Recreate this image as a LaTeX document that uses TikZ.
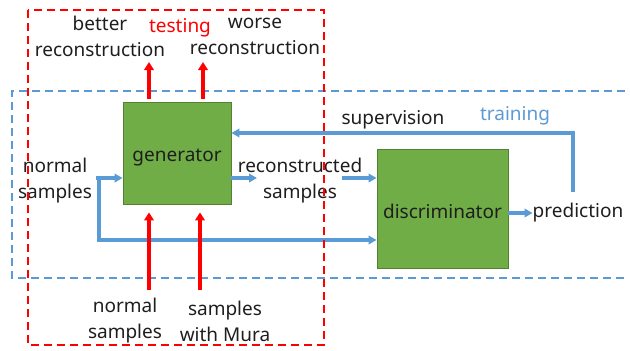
\documentclass[tikz,border=0pt]{standalone}
\usepackage{fontspec}
\setmainfont{Noto Sans}
\usetikzlibrary{arrows.meta,positioning,calc}
\definecolor{gc}{RGB}{112,173,71}
\definecolor{gl}{RGB}{84,130,53}
\definecolor{bc}{RGB}{91,155,213}
\definecolor{tc}{RGB}{30,30,30}
\tikzset{blk/.style={draw=gl,fill=gc,line width=.8pt,inner sep=0pt,text=tc},
 lbl/.style={align=center,inner sep=0pt,text=tc,yshift=-3pt},
 barr/.style={draw=bc,line width=3.6pt,-{Triangle[length=8pt,width=8.5pt]}},
 rarr/.style={draw=red,line width=4.5pt,-{Triangle[length=8pt,width=9.5pt]}},
 bbox/.style={draw=bc,line width=1.5pt,dash pattern=on 8pt off 5pt},
 rbox/.style={draw=red,line width=1.8pt,dash pattern=on 8pt off 5pt},
 every node/.style={font=\fontsize{19}{26}\selectfont}}
\begin{document}
\begin{tikzpicture}[x=1pt,y=-1pt]
\useasboundingbox (0,0) rectangle (630,351);
% training frame
\draw[bbox] (625,91) -- (12,91) -- (12,278) -- (625,278);
\node[lbl,text=bc] (trn) at (515,113) {training};
% blocks
\node[blk,minimum width=108pt,minimum height=102pt,label={[lbl,yshift=-2pt]center:generator}] (gen) at (177,153) {};
\node[blk,minimum width=131pt,minimum height=119pt,label={[lbl]center:discriminator}] (dis) at (442.5,208.5) {};
% labels
\node[lbl] (ns) at (55,178) {normal\\samples};
\node[lbl] (rs) at (300,178) {reconstructed\\samples};
\node[lbl] (pred) at (578,210) {prediction};
\node[lbl] (sup) at (393,117) {supervision};
\node[lbl] (br) at (100,33) {better\\reconstruction};
\node[lbl] (wr) at (255,33) {worse\\reconstruction};
\node[lbl] (nsb) at (125,318) {normal\\samples};
\node[lbl] (mura) at (225,318) {samples\\with Mura};
\node[lbl,text=red] (tst) at (180,25) {testing};
% training flow
\coordinate (jn) at (99,178);\coordinate (jd) at (99,240);
\coordinate (rsa) at (257,178);\coordinate (rsb) at (342,178);
\coordinate (sv) at (573,192);\coordinate (sv2) at (573,133);
\draw[barr,shorten <=4pt] (ns.east |- jn) -- (gen.west |- jn);
\draw[barr] (jn) -- (jd) -- (dis.west |- jd);
\draw[barr] (gen.east |- rsa) -- (rsa);
\draw[barr] (rsb) -- (dis.west |- rsb);
\draw[barr] (dis.east |- pred) -- (pred.west);
\draw[barr] (sv) -- (sv2) -- (gen.east |- sv2);
% testing flow
\coordinate (t1) at (149,62);\coordinate (t2) at (203,62);
\coordinate (b1) at (149,290);\coordinate (b2) at (200,290);
\draw[rarr] ([yshift=3pt]gen.north -| t1) -- (t1);
\draw[rarr] ([yshift=3pt]gen.north -| t2) -- (t2);
\draw[rarr,shorten >=8pt] (b1) -- (gen.south -| b1);
\draw[rarr,shorten >=8pt] (b2) -- (gen.south -| b2);
\draw[rbox] (28,10) rectangle (324,345);
\end{tikzpicture}
\end{document}
